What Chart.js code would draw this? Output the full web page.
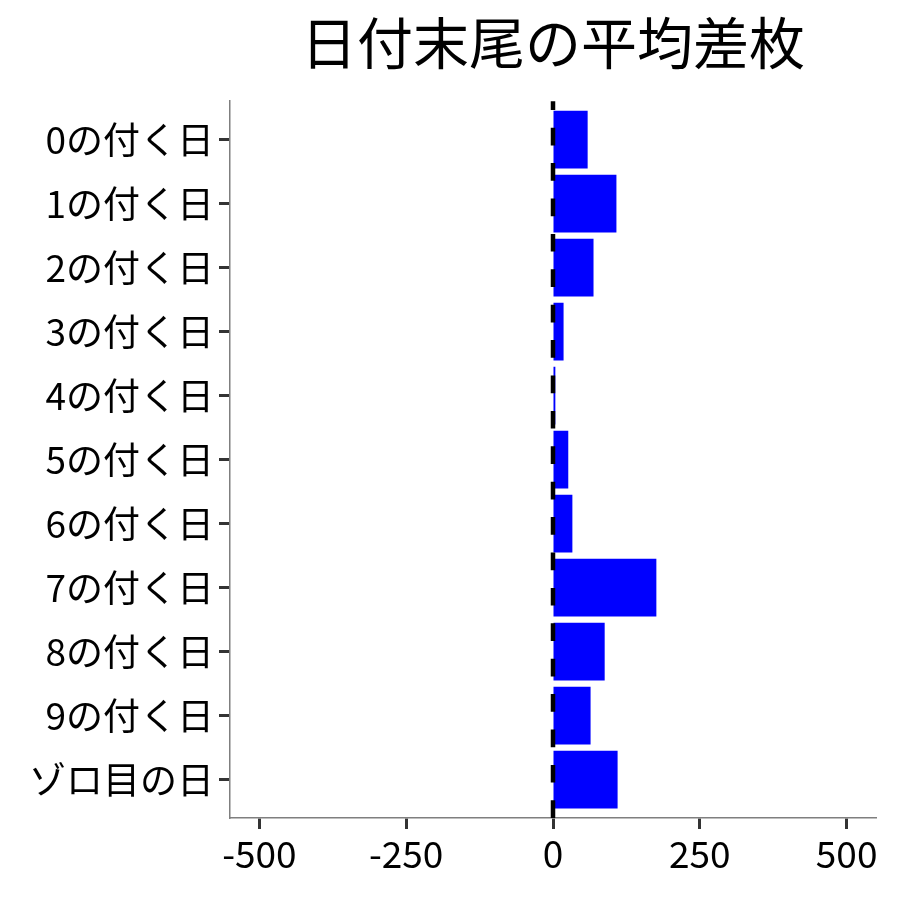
<!DOCTYPE html>
<html>
<head>
<meta charset="utf-8">
<script src="https://cdn.jsdelivr.net/npm/chart.js@4"></script>
<style>
  body { margin: 0; background: #fff; }
  #wrap { width: 900px; height: 900px; }
</style>
</head>
<body>
<div id="wrap"><canvas id="chart" width="900" height="900"></canvas></div>
<script>
const categories = [
  "0の付く日", "1の付く日", "2の付く日", "3の付く日", "4の付く日",
  "5の付く日", "6の付く日", "7の付く日", "8の付く日", "9の付く日", "ゾロ目の日"
];
const avgDiff = [59, 108, 69, 18, 4, 26, 33, 176, 88, 64, 110];
const xTicks = [-500, -250, 0, 250, 500];

const FONT = "'Noto Sans CJK JP', 'Noto Sans', sans-serif";

// vertical dashed reference line at x = 0, drawn bottom to top
const zeroLine = {
  id: "zeroLine",
  afterDatasetsDraw(chart) {
    const ctx = chart.ctx;
    const area = chart.chartArea;
    const x = chart.scales.x.getPixelForValue(0);
    ctx.save();
    ctx.strokeStyle = "#000";
    ctx.lineWidth = 4.5;
    ctx.setLineDash([17.7, 17.7]);
    ctx.beginPath();
    ctx.moveTo(x, area.bottom);
    ctx.lineTo(x, area.top);
    ctx.stroke();
    ctx.restore();
  },
};

new Chart(document.getElementById("chart"), {
  type: "bar",
  data: {
    labels: categories,
    datasets: [
      {
        data: avgDiff,
        backgroundColor: "#0000ff",
        barPercentage: 0.9,
        categoryPercentage: 1,
      },
    ],
  },
  options: {
    indexAxis: "y",
    responsive: false,
    animation: false,
    layout: { padding: { left: 0, right: 24, top: 0, bottom: 0 } },
    plugins: {
      legend: { display: false },
      tooltip: { enabled: false },
      title: {
        display: true,
        text: "日付末尾の平均差枚",
        fullSize: false,
        color: "#000",
        font: { family: FONT, size: 56, weight: "normal" },
        padding: { top: 9, bottom: 25 },
      },
    },
    scales: {
      x: {
        min: -550,
        max: 550,
        afterBuildTicks: (s) => {
          s.ticks = xTicks.map((v) => ({ value: v }));
        },
        afterFit: (s) => {
          s.height = 82;
        },
        grid: {
          drawOnChartArea: false,
          drawTicks: true,
          tickLength: 11,
          tickColor: "#333",
          tickWidth: 3,
        },
        border: { color: "#7f7f7f", width: 1.5 },
        ticks: {
          color: "#000",
          padding: 3,
          font: { family: FONT, size: 37 },
        },
      },
      y: {
        offset: true,
        afterBuildTicks: (s) => {
          s._startValue = -0.6;
          s._valueRange = categories.length + 0.2;
        },
        afterFit: (s) => {
          s.width = 230;
        },
        grid: {
          offset: false,
          drawOnChartArea: false,
          drawTicks: true,
          tickLength: 11,
          tickColor: "#333",
          tickWidth: 3,
        },
        border: { color: "#7f7f7f", width: 1.5 },
        ticks: {
          color: "#000",
          padding: 5,
          font: { family: FONT, size: 37 },
        },
      },
    },
  },
  plugins: [zeroLine],
});
</script>
</body>
</html>
